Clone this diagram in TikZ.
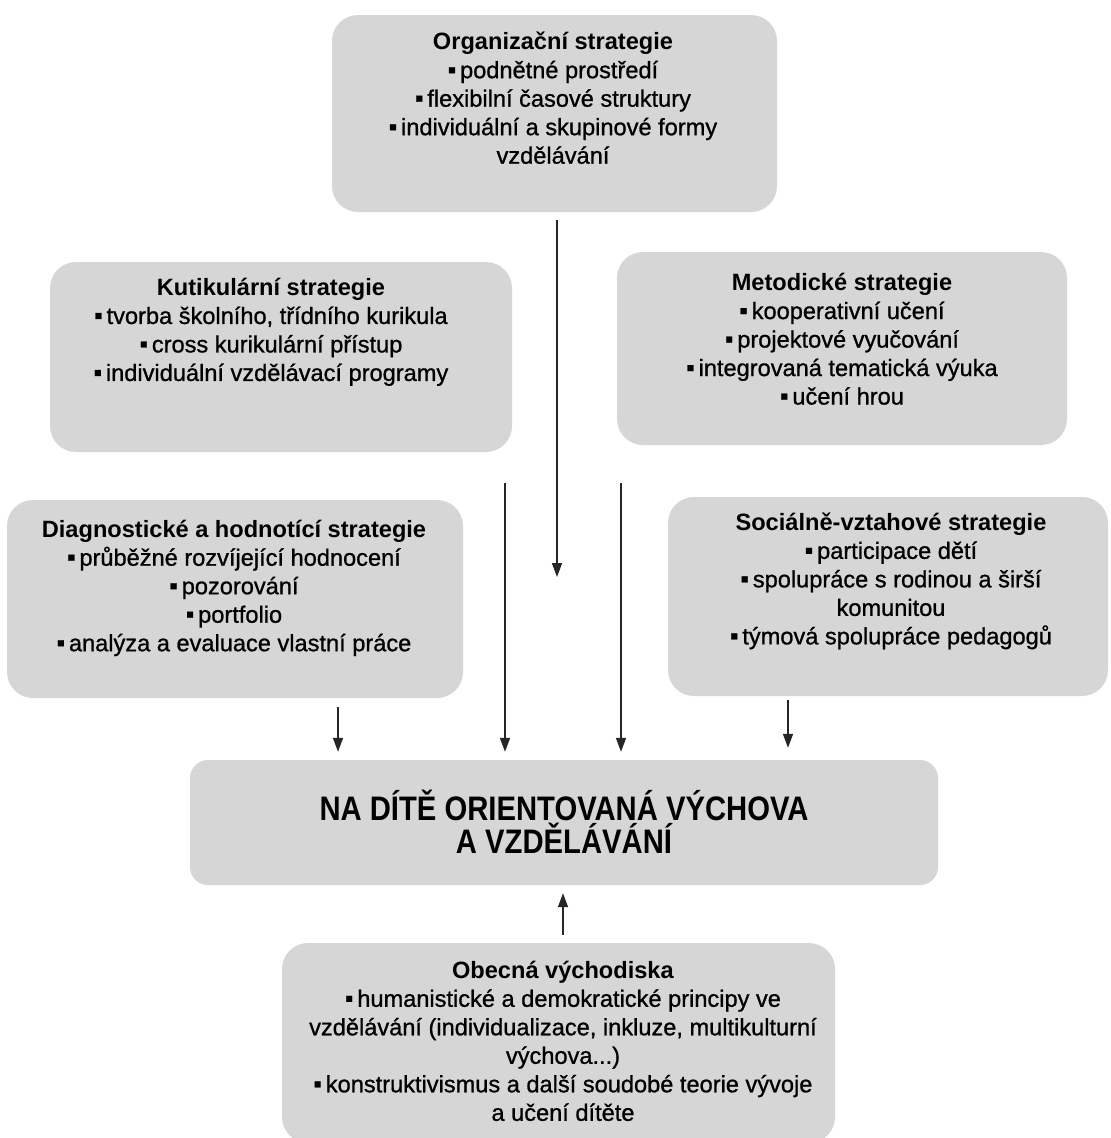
\documentclass[tikz,border=0pt]{standalone}
\usepackage{fontspec}
\setmainfont{Liberation Sans}[UprightFeatures={FakeBold=0.9}]
\newfontfamily\narrowfont[FakeStretch=0.86]{Liberation Sans}
\usetikzlibrary{arrows.meta}
\tikzset{
  box/.style={fill=black!16, rounded corners=26pt, inner sep=0pt},
  txt/.style={align=center, inner sep=0pt, font=\fontsize{23.6}{28.5}\selectfont, text=black},
  arr/.style={line width=1.6pt, draw=black!85, -{Triangle[length=14pt,width=10pt]}},
}
\newcommand{\bul}{\raisebox{0.05ex}{▪}\,}
\begin{document}
\begin{tikzpicture}[x=1pt,y=-1pt]
\useasboundingbox[fill=white] (0,0) rectangle (1111,1138);
% boxes
\node[box, minimum width=445pt, minimum height=197pt] (org) at (554.5,113.5) {};
\node[box, minimum width=462pt, minimum height=190pt] (kut) at (281,357) {};
\node[box, minimum width=450pt, minimum height=193pt] (met) at (842,348.5) {};
\node[box, minimum width=456pt, minimum height=198pt] (diag) at (235,599) {};
\node[box, minimum width=440pt, minimum height=199pt] (soc) at (888,596.5) {};
\node[box, minimum width=748pt, minimum height=125pt, rounded corners=18pt] (cen) at (564,822.5) {};
\node[box, minimum width=553pt, minimum height=200pt] (obec) at (558.5,1043) {};
% texts
\node[txt] (orgT) at (553,98) {\textbf{Organizační strategie}\\
  \bul podnětné prostředí\\ \bul flexibilní časové struktury\\
  \bul individuální a skupinové formy\\ vzdělávání};
\node[txt] (kutT) at (271,332) {\textbf{Kutikulární strategie}\\
  \bul tvorba školního, třídního kurikula\\ \bul cross kurikulární přístup\\
  \bul individuální vzdělávací programy};
\node[txt] (metT) at (842,339) {\textbf{Metodické strategie}\\
  \bul kooperativní učení\\ \bul projektové vyučování\\
  \bul integrovaná tematická výuka\\ \bul učení hrou};
\node[txt] (diagT) at (234,588) {\textbf{Diagnostické a hodnotící strategie}\\
  \bul průběžné rozvíjející hodnocení\\ \bul pozorování\\ \bul portfolio\\
  \bul analýza a evaluace vlastní práce};
\node[txt] (socT) at (891,581) {\textbf{Sociálně-vztahové strategie}\\
  \bul participace dětí\\ \bul spolupráce s rodinou a širší\\ komunitou\\
  \bul týmová spolupráce pedagogů};
\node[txt, font=\narrowfont\bfseries\fontsize{34}{33}\selectfont] (cenT) at (564,822) {NA DÍTĚ ORIENTOVANÁ VÝCHOVA\\ A VZDĚLÁVÁNÍ};
\node[txt] (obecT) at (563,1041) {\textbf{Obecná východiska}\\
  \bul humanistické a demokratické principy ve\\
  vzdělávání (individualizace, inkluze, multikulturní\\ výchova...)\\
  \bul konstruktivismus a další soudobé teorie vývoje\\ a učení dítěte};
% arrows
\coordinate (e1) at (557,577);
\draw[arr, shorten <=8pt] (org.south -| e1) -- (e1);
\draw[arr, shorten <=31pt, shorten >=8pt] (kut.south -| 505,0) -- (cen.north -| 505,0);
\draw[arr, shorten <=38pt, shorten >=8pt] (met.south -| 621,0) -- (cen.north -| 621,0);
\draw[arr, shorten <=9pt, shorten >=8pt] (diag.south -| 338,0) -- (cen.north -| 338,0);
\draw[arr, shorten <=4pt, shorten >=12pt] (soc.south -| 788,0) -- (cen.north -| 788,0);
\draw[arr, shorten <=8pt, shorten >=8pt] (obec.north -| 563,0) -- (cen.south -| 563,0);
\end{tikzpicture}
\end{document}
